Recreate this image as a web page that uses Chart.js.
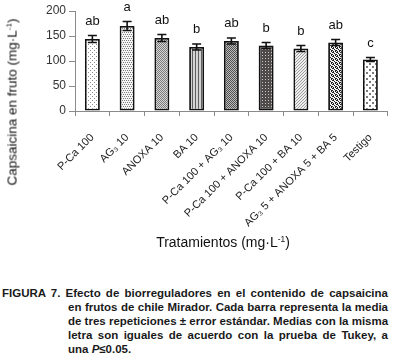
<!DOCTYPE html>
<html>
<head>
<meta charset="utf-8">
<script src="https://cdn.jsdelivr.net/npm/chart.js@4"></script>
<style>
  html, body { margin: 0; padding: 0; background: #fff; }
  #wrap { position: relative; width: 395px; height: 360px; overflow: hidden; font-family: Arial, "Liberation Sans", sans-serif; }
  #c { position: absolute; left: 0; top: 0; }
  #ytitle { position: absolute; left: 12px; top: 102px; transform: translate(-50%, -50%) rotate(-90deg); white-space: nowrap; font-size: 13.5px; color: #111; }
  #xtitle { position: absolute; left: 223px; top: 242px; transform: translate(-50%, -50%); white-space: nowrap; font-size: 14px; color: #111; }
  sup { font-size: 0.6em; vertical-align: 0.6em; line-height: 0; }
  #caption { position: absolute; left: 2px; top: 286px; width: 386px; font-size: 11.5px; font-weight: bold; line-height: 14px; color: #1a1a1a; }
  #caption .l { text-align: justify; text-align-last: justify; white-space: nowrap; }
  #caption .i { margin-left: 66px; }
  #caption .last { text-align: left; text-align-last: left; }
</style>
</head>
<body>
<div id="wrap">
  <canvas id="c" width="395" height="255"></canvas>
  <div id="ytitle">Capsaicina en fruto (mg·L<sup>-1</sup>)</div>
  <div id="xtitle">Tratamientos (mg·L<sup>-1</sup>)</div>
  <div id="caption">
    <div class="l">FIGURA 7. Efecto de biorreguladores en el contenido de capsaicina</div>
    <div class="l i">en frutos de chile Mirador. Cada barra representa la media</div>
    <div class="l i">de tres repeticiones ± error estándar. Medias con la misma</div>
    <div class="l i">letra son iguales de acuerdo con la prueba de Tukey, a</div>
    <div class="l i last">una <i>P</i>≤0.05.</div>
  </div>
</div>
<script>
const categories = ["P-Ca 100", "AG\u2083 10", "ANOXA 10", "BA 10", "P-Ca 100 + AG\u2083 10", "P-Ca 100 + ANOXA 10", "P-Ca 100 + BA 10", "AG\u2083 5 + ANOXA 5 + BA 5", "Testigo"];
const means = [144, 170, 146, 128, 140, 131, 125, 137, 103];
const errors = [7, 9, 7, 6, 6, 6, 6, 6, 4];
const letters = ["ab", "a", "ab", "b", "ab", "b", "b", "ab", "c"];
const yTicks = [0, 50, 100, 150, 200];

function tile(w, h, bg, fg, cells) {
  const cv = document.createElement('canvas');
  cv.width = w; cv.height = h;
  const g = cv.getContext('2d');
  g.fillStyle = bg; g.fillRect(0, 0, w, h);
  g.fillStyle = fg;
  cells.forEach(c => g.fillRect(c[0], c[1], c[2] || 1, c[3] || 1));
  return g.createPattern(cv, 'repeat');
}
const patterns = [
  tile(4, 4, '#ffffff', '#8a8a8a', [[0,0],[2,2]]),
  tile(4, 4, '#f4f4f4', '#808080', [[0,0],[2,0],[1,2],[3,2]]),
  tile(2, 2, '#d8d8d8', '#7a7a7a', [[0,0],[1,1]]),
  tile(3, 1, '#d4d4d4', '#606060', [[0,0]]),
  tile(2, 2, '#bdbdbd', '#505050', [[0,0],[1,1]]),
  tile(3, 3, '#4e4a4a', '#c8c8c8', [[1,1]]),
  tile(3, 3, '#efefef', '#9a9a9a', [[0,0],[2,1],[1,2]]),
  tile(4, 4, '#f2f2f2', '#202020', [[0,0,2,1],[2,1],[3,2,1,2],[1,3],[0,2]]),
  tile(6, 6, '#ffffff', '#7a7a7a', [[0,0,2,2],[3,3,2,2]])
];

const errorPlugin = {
  id: 'errs',
  afterDatasetsDraw(chart) {
    const c = chart.ctx, y = chart.scales.y;
    const meta = chart.getDatasetMeta(0);
    c.save();
    c.strokeStyle = '#111'; c.lineWidth = 1.6;
    c.fillStyle = '#111';
    c.font = '13px Arial, "Liberation Sans", sans-serif';
    c.textAlign = 'center'; c.textBaseline = 'alphabetic';
    meta.data.forEach((bar, i) => {
      const x = bar.x;
      const top = y.getPixelForValue(means[i] + errors[i]);
      const bot = y.getPixelForValue(means[i] - errors[i]);
      c.beginPath();
      c.moveTo(x, top); c.lineTo(x, bot);
      c.moveTo(x - 4.5, top); c.lineTo(x + 4.5, top);
      c.moveTo(x - 4.5, bot); c.lineTo(x + 4.5, bot);
      c.stroke();
      c.fillText(letters[i], x, top - 11);
    });
    c.restore();
  }
};

new Chart(document.getElementById('c'), {
  type: 'bar',
  data: {
    labels: categories,
    datasets: [{
      data: means,
      backgroundColor: patterns,
      borderColor: '#111',
      borderWidth: 1.8,
      borderSkipped: false,
      categoryPercentage: 1,
      barPercentage: 0.43
    }]
  },
  options: {
    responsive: false,
    animation: false,
    devicePixelRatio: 1,
    layout: { padding: { top: 11, right: 5, left: 0, bottom: 0 } },
    plugins: { legend: { display: false }, tooltip: { enabled: false } },
    scales: {
      y: {
        min: 0, max: 200,
        afterFit: s => { s.width = 75; },
        afterBuildTicks: s => { s.ticks = yTicks.map(v => ({ value: v })); },
        ticks: { color: '#333', font: { size: 12, family: 'Arial, "Liberation Sans", sans-serif' }, padding: 3 },
        grid: { drawOnChartArea: false, drawTicks: true, tickLength: 6, color: '#8a8a8a' },
        border: { color: '#8a8a8a' }
      },
      x: {
        afterFit: s => { s.height = 144; },
        ticks: { color: '#222', maxRotation: 45, minRotation: 45, autoSkip: false, font: { size: 11, family: 'Arial, "Liberation Sans", sans-serif' }, padding: 15 },
        grid: { offset: true, drawOnChartArea: false, drawTicks: true, tickLength: 5, color: '#8a8a8a' },
        border: { color: '#8a8a8a' }
      }
    }
  },
  plugins: [errorPlugin]
});
</script>
</body>
</html>
